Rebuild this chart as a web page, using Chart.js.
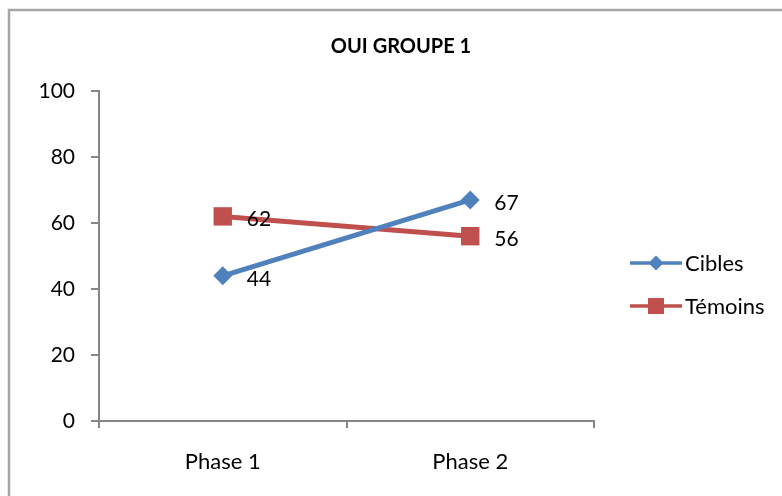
<!DOCTYPE html>
<html>
<head>
<meta charset="utf-8">
<script src="https://cdn.jsdelivr.net/npm/chart.js@4.4.1/dist/chart.umd.min.js"></script>
<style>
html,body{margin:0;padding:0;background:#fff;}
#wrap{position:relative;width:782px;height:496px;}
</style>
</head>
<body>
<div id="wrap"><canvas id="c" width="782" height="496"></canvas></div>
<script>
const chartTitle = "OUI GROUPE 1";
const categories = ["Phase 1", "Phase 2"];
const seriesNames = ["Cibles", "Témoins"];
const ciblesValues = [44, 67];
const temoinsValues = [62, 56];
const yTicks = [0, 20, 40, 60, 80, 100];

const FONT = "Lato, 'Open Sans', sans-serif";
const BLUE = "#4F81BD";
const RED = "#C0504D";
const AXIS = "#868686";

const extrasPlugin = {
  id: "extras",
  beforeDraw(chart) {
    const ctx = chart.ctx;
    ctx.save();
    ctx.fillStyle = "#fff";
    ctx.fillRect(0, 0, chart.width, chart.height);
    ctx.strokeStyle = "#a6a6a6";
    ctx.lineWidth = 2.5;
    ctx.beginPath();
    ctx.moveTo(9, chart.height);
    ctx.lineTo(9, 10);
    ctx.lineTo(chart.width, 10);
    ctx.stroke();
    ctx.restore();
  },
  afterDraw(chart) {
    const ctx = chart.ctx;
    ctx.save();
    // title
    ctx.fillStyle = "#000";
    ctx.font = "bold 20px " + FONT;
    ctx.textAlign = "center";
    ctx.textBaseline = "middle";
    ctx.fillText(chartTitle, 401, 47);
    // data labels
    ctx.font = "21px " + FONT;
    ctx.textAlign = "left";
    chart.data.datasets.forEach((ds, i) => {
      const meta = chart.getDatasetMeta(i);
      meta.data.forEach((pt, j) => {
        ctx.fillText(String(ds.data[j]), pt.x + 24, pt.y + 3);
      });
    });
    // legend
    const rows = [263, 306];
    chart.data.datasets.forEach((ds, i) => {
      const y = rows[i];
      ctx.strokeStyle = ds.borderColor;
      ctx.lineWidth = 3.5;
      ctx.beginPath();
      ctx.moveTo(630, y);
      ctx.lineTo(682, y);
      ctx.stroke();
      ctx.fillStyle = ds.backgroundColor;
      ctx.beginPath();
      if (ds.pointStyle === "rectRot") {
        const r = 7.5;
        ctx.moveTo(656 - r, y); ctx.lineTo(656, y - r); ctx.lineTo(656 + r, y); ctx.lineTo(656, y + r);
      } else {
        ctx.rect(656 - 8, y - 8, 16, 16);
      }
      ctx.closePath();
      ctx.fill();
      ctx.fillStyle = "#000";
      ctx.font = "22px " + FONT;
      ctx.textAlign = "left";
      ctx.fillText(ds.label, 685, y + 1);
    });
    ctx.restore();
  }
};

new Chart(document.getElementById("c"), {
  type: "line",
  data: {
    labels: categories,
    datasets: [
      {
        label: seriesNames[0],
        data: ciblesValues,
        borderColor: BLUE,
        backgroundColor: BLUE,
        borderWidth: 5,
        pointStyle: "rectRot",
        pointRadius: 9.5,
        pointHoverRadius: 9.5,
        pointBorderWidth: 0,
        tension: 0
      },
      {
        label: seriesNames[1],
        data: temoinsValues,
        borderColor: RED,
        backgroundColor: RED,
        borderWidth: 5,
        pointStyle: "rect",
        pointRadius: 13,
        pointHoverRadius: 13,
        pointBorderWidth: 0,
        tension: 0
      }
    ]
  },
  options: {
    responsive: false,
    animation: false,
    events: [],
    layout: { padding: { left: 20, right: 188, top: 91, bottom: 0 } },
    plugins: { legend: { display: false }, title: { display: false }, tooltip: { enabled: false } },
    scales: {
      x: {
        offset: true,
        grid: { display: true, offset: true, drawOnChartArea: false, drawTicks: true, tickLength: 7, color: AXIS, lineWidth: 2 },
        border: { display: true, color: AXIS, width: 2 },
        ticks: { color: "#000", font: { family: FONT, size: 22 }, padding: 21, maxRotation: 0 },
        afterFit(s) { s.height = 75; }
      },
      y: {
        min: 0,
        max: 100,
        afterBuildTicks(s) { s.ticks = yTicks.map(v => ({ value: v })); },
        grid: { display: true, drawOnChartArea: false, drawTicks: true, tickLength: 8, color: AXIS, lineWidth: 2 },
        border: { display: true, color: AXIS, width: 2 },
        ticks: { color: "#000", font: { family: FONT, size: 21 }, padding: 16 },
        afterFit(s) { s.width = 79; }
      }
    }
  },
  plugins: [extrasPlugin]
});
</script>
</body>
</html>
